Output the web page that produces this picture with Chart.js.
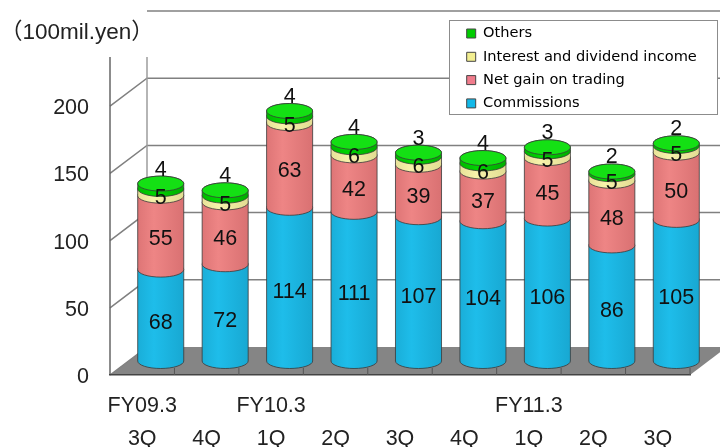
<!DOCTYPE html>
<html>
<head>
<meta charset="utf-8">
<script src="https://cdn.jsdelivr.net/npm/chart.js@4"></script>
<style>
  html, body { margin: 0; padding: 0; background: #fff; }
  canvas { display: block; }
</style>
</head>
<body>
<canvas id="chart" width="720" height="447"></canvas>
<script>
const quarters = [
  ["FY09.3", "3Q"], ["", "4Q"], ["FY10.3", "1Q"], ["", "2Q"], ["", "3Q"],
  ["", "4Q"], ["FY11.3", "1Q"], ["", "2Q"], ["", "3Q"]
];
const commissions = [68, 72, 114, 111, 107, 104, 106, 86, 105];
const netGain = [55, 46, 63, 42, 39, 37, 45, 48, 50];
const interest = [5, 5, 5, 6, 6, 6, 5, 5, 5];
const others = [4, 4, 4, 4, 3, 4, 3, 2, 2];

// how far the back wall sits behind the front plane
const depthX = 37;
const depthY = -28;
const radiusY = 7.5;
const sansFont = "'Liberation Sans', Arial, sans-serif";
const labelFont = "21.5px " + sansFont;

const sideColors = {
  Commissions: ["#1aaed8", "#1ebdea", "#18a8d2"],
  "Net gain on trading": ["#de7576", "#ee8585", "#d97172"],
  "Interest and dividend income": ["#e8e298", "#f7f2ab", "#e2dc92"],
  Others: ["#00b800", "#00d400", "#00ad00"]
};
const legendColors = ["#12b8e8", "#f07c8c", "#f2ee90", "#00cc00"];

const wallPlugin = {
  id: "wall",
  beforeDraw(chart) {
    const ctx = chart.ctx;
    const y = chart.scales.y;
    const area = chart.chartArea;
    const bottom = y.getPixelForValue(0);
    ctx.save();

    // floor
    ctx.fillStyle = "#858585";
    ctx.beginPath();
    ctx.moveTo(area.left, bottom);
    ctx.lineTo(area.left + depthX, bottom + depthY);
    ctx.lineTo(area.right + depthX, bottom + depthY);
    ctx.lineTo(area.right, bottom);
    ctx.closePath();
    ctx.fill();

    // gridlines run across the back wall and down the side wall
    ctx.strokeStyle = "#808080";
    ctx.lineWidth = 1.5;
    y.ticks.forEach((t) => {
      const py = y.getPixelForValue(t.value);
      ctx.beginPath();
      if (t.value === 250) {
        ctx.moveTo(area.left + depthX, py + depthY);
      } else {
        ctx.moveTo(area.left, py);
        ctx.lineTo(area.left + depthX, py + depthY);
      }
      if (t.value > 0) ctx.lineTo(720, py + depthY);
      ctx.stroke();
    });

    // both upright edges stop short of the top line
    ctx.strokeStyle = "#9c9c9c";
    ctx.beginPath();
    ctx.moveTo(area.left + depthX, bottom + depthY);
    ctx.lineTo(area.left + depthX, 57);
    ctx.stroke();
    ctx.strokeStyle = "#666";
    ctx.beginPath();
    ctx.moveTo(area.left, bottom);
    ctx.lineTo(area.left, 57);
    ctx.stroke();

    // legend frame
    ctx.fillStyle = "#fff";
    ctx.strokeStyle = "#8c8c8c";
    ctx.lineWidth = 1;
    ctx.fillRect(449.5, 20.5, 268, 94);
    ctx.strokeRect(449.5, 20.5, 268, 94);

    // unit caption
    ctx.fillStyle = "#222";
    ctx.font = "22.5px 'Liberation Sans', 'Noto Sans CJK JP', sans-serif";
    ctx.textBaseline = "middle";
    ctx.fillText("（100mil.yen）", 0, 33);
    ctx.restore();
  },
  afterLayout(chart) {
    const legend = chart.legend;
    legend.left = 458;
    legend.right = 718;
    legend.top = 17.5;
    legend.bottom = 140;
  }
};

const cylinderPlugin = {
  id: "cylinders",
  afterDatasetsDraw(chart) {
    const ctx = chart.ctx;
    const area = chart.chartArea;
    const count = chart.data.datasets.length;
    ctx.save();

    // short ticks marking the category bands along the front edge
    ctx.strokeStyle = "#555";
    ctx.lineWidth = 1;
    chart.data.labels.forEach((_, i) => {
      const px = chart.scales.x.getPixelForValue(i) + (area.right - area.left) / chart.data.labels.length / 2;
      ctx.beginPath();
      ctx.moveTo(px, area.bottom);
      ctx.lineTo(px, area.bottom - 7);
      ctx.stroke();
    });

    chart.data.labels.forEach((_, i) => {
      for (let d = 0; d < count; d++) {
        const el = chart.getDatasetMeta(d).data[i];
        const cx = el.x + depthX / 2;
        const rx = el.width / 2;
        const top = el.y + depthY / 2;
        const base = el.base + depthY / 2;
        const colors = sideColors[chart.data.datasets[d].label];
        const grad = ctx.createLinearGradient(cx - rx, 0, cx + rx, 0);
        grad.addColorStop(0, colors[0]);
        grad.addColorStop(0.35, colors[1]);
        grad.addColorStop(1, colors[2]);
        ctx.fillStyle = grad;
        ctx.strokeStyle = "#3a3a3a";
        ctx.lineWidth = 0.8;
        ctx.beginPath();
        ctx.moveTo(cx - rx, top);
        ctx.lineTo(cx - rx, base);
        ctx.ellipse(cx, base, rx, radiusY, 0, Math.PI, 0, true);
        ctx.lineTo(cx + rx, top);
        ctx.ellipse(cx, top, rx, radiusY, 0, 0, Math.PI, true);
        ctx.closePath();
        ctx.fill();
        ctx.stroke();
        if (d === count - 1) {
          ctx.fillStyle = "#14e014";
          ctx.beginPath();
          ctx.ellipse(cx, top, rx, radiusY, 0, 0, Math.PI * 2);
          ctx.fill();
          ctx.stroke();
        }
      }
      // value labels go on top so the small segments stay readable
      ctx.fillStyle = "#111";
      ctx.font = labelFont;
      ctx.textAlign = "center";
      ctx.textBaseline = "middle";
      for (let d = 0; d < count; d++) {
        const el = chart.getDatasetMeta(d).data[i];
        const cx = el.x + depthX / 2;
        const value = chart.data.datasets[d].data[i];
        let y = (el.y + el.base) / 2 + depthY / 2 + 6;
        if (d === 0) y += 2;
        if (d === count - 1) y = el.y + depthY / 2 - 14;
        ctx.fillText(String(value), cx, y);
      }
    });
    ctx.restore();
  }
};

new Chart(document.getElementById("chart"), {
  type: "bar",
  data: {
    labels: quarters,
    datasets: [
      { label: "Commissions", data: commissions },
      { label: "Net gain on trading", data: netGain },
      { label: "Interest and dividend income", data: interest },
      { label: "Others", data: others }
    ].map((d) => ({
      ...d,
      // bodies are painted by the cylinder plugin
      backgroundColor: "transparent",
      borderWidth: 0,
      categoryPercentage: 1,
      barPercentage: 46 / 64.4
    }))
  },
  options: {
    responsive: false,
    animation: false,
    layout: { padding: { left: 0, right: 30, top: 39, bottom: 0 } },
    scales: {
      x: {
        stacked: true,
        afterFit(scale) { scale.height = 72; },
        border: { color: "#444", width: 1.5 },
        grid: { display: false },
        ticks: {
          maxRotation: 0,
          autoSkip: false,
          color: "#222",
          padding: 6,
          font: { family: sansFont, size: 21.5, lineHeight: 1.55 }
        }
      },
      y: {
        stacked: true,
        min: 0,
        max: 250,
        afterFit(scale) { scale.width = 110; },
        border: { display: false },
        grid: { display: false },
        ticks: {
          stepSize: 50,
          color: "#222",
          padding: 13,
          // blank first line nudges the number a little below its gridline
          callback: (v) => (v === 250 ? "" : ["", String(v)]),
          font: { family: sansFont, size: 21.5, lineHeight: "4px" }
        }
      }
    },
    plugins: {
      tooltip: { enabled: false },
      legend: {
        position: "chartArea",
        align: "start",
        reverse: true,
        labels: {
          boxWidth: 9,
          boxHeight: 9,
          padding: 8.7,
          color: "#333",
          font: { family: "'DejaVu Sans', sans-serif", size: 14.6 },
          generateLabels: (chart) => chart.data.datasets.map((d, i) => ({
            text: d.label,
            fillStyle: legendColors[i],
            strokeStyle: "#444",
            lineWidth: 1,
            datasetIndex: i
          }))
        }
      }
    }
  },
  plugins: [wallPlugin, cylinderPlugin]
});
</script>
</body>
</html>
